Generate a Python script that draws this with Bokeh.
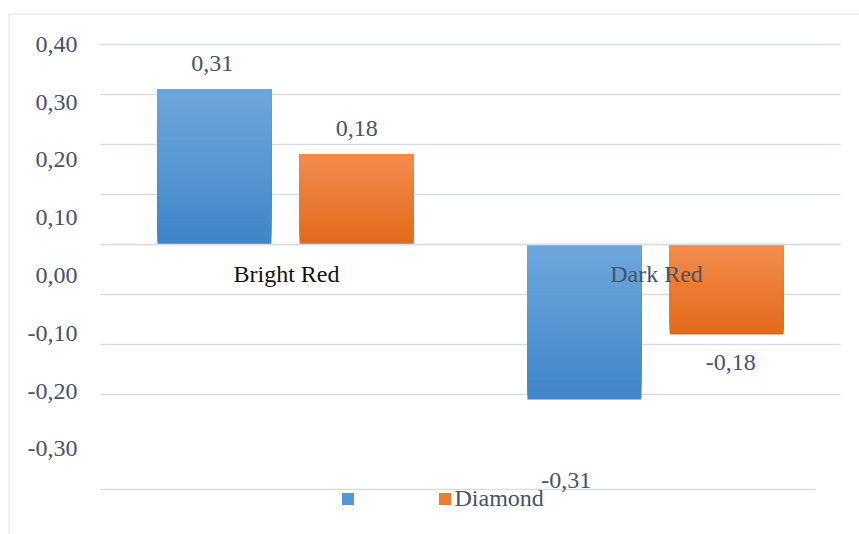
from bokeh.plotting import figure
from bokeh.models import ColumnDataSource, Range1d, Span, Legend, LegendItem
from bokeh.core.properties import value
from bokeh.embed import file_html
from bokeh.resources import INLINE

# ---- data ----
categories = ["Bright Red", "Dark Red"]
series_names = ["", "Diamond"]
blue_values = [0.31, -0.31]
orange_values = [0.18, -0.18]
tick_values = [0.40, 0.30, 0.20, 0.10, 0.00, -0.10, -0.20, -0.30]
tick_labels = ["0,40", "0,30", "0,20", "0,10", "0,00", "-0,10", "-0,20", "-0,30"]
grid_values = [0.40, 0.30, 0.20, 0.10, 0.00, -0.10, -0.20, -0.30]
baseline_value = 0.0
floor_value = -0.49

# ---- styling ----
FONT = "Liberation Serif"
FONT_SIZE = "24px"
TEXT_COLOR = "#44546a"
GRID_COLOR = "#d9dde3"
BORDER_COLOR = "#dde1e6"
BLUE = ("#6ea6dc", "#3f86c8")      # light (top), dark (bottom)
ORANGE = ("#f28c4e", "#e3691a")
N_LAYERS = 40
BAR_W = 1 / 3.25                   # 100% gap between clusters, -25% overlap
BAR_SHIFT = 0.625 * BAR_W
category_colors = ["#111111", TEXT_COLOR]
# value label nudges (dx, dy) in screen pixels, per series and category
value_label_offsets = [
    [(-2, -26), (-18, 81)],
    [(0, -26), (4, 28)],
]

W, H = 859, 534
LEFT, TOP = 8, 13
X_START, X_END = -0.74865, 1.55135
Y_START, Y_END = -0.58, 0.462
FLOOR_X_END = 1.432


def hex_rgb(h):
    return tuple(int(h[i:i + 2], 16) for i in (1, 3, 5))


def mix(c0, c1, t):
    a, b = hex_rgb(c0), hex_rgb(c1)
    return "#%02x%02x%02x" % tuple(round(a[i] + (b[i] - a[i]) * t) for i in range(3))


def layered_source(xs, vals, colors):
    """Stacked, shrinking slices of each bar that shade it from light (top) to dark (bottom)."""
    light, dark = colors
    x, top, bottom, color = [], [], [], []
    for k in range(N_LAYERS):
        frac = 1 - k / N_LAYERS
        c = mix(dark, light, k / (N_LAYERS - 1))
        for xi, v in zip(xs, vals):
            hi, lo = max(v, 0.0), min(v, 0.0)
            x.append(xi)
            top.append(hi)
            bottom.append(hi - (hi - lo) * frac)
            color.append(c)
    return ColumnDataSource(dict(x=x, top=top, bottom=bottom, color=color))


p = figure(
    width=W, height=H,
    x_range=Range1d(X_START, X_END), y_range=Range1d(Y_START, Y_END),
    x_axis_type=None, y_axis_type=None,
    toolbar_location=None, output_backend="svg",
    min_border_left=LEFT, min_border_top=TOP, min_border_right=0, min_border_bottom=0,
)
p.extra_y_ranges = {"ticks": Range1d(-0.44795, 0.4533)}
p.outline_line_color = None
p.background_fill_color = "white"
p.border_fill_color = "white"

# chart area border (top and left edges)
p.add_layout(Span(location=Y_END, dimension="width", line_color=BORDER_COLOR, line_width=2))
p.add_layout(Span(location=X_START, dimension="height", line_color=BORDER_COLOR, line_width=2))

# horizontal gridlines across the category domain
n = len(categories)
p.segment(x0=[-0.5] * len(grid_values), x1=[n - 0.5] * len(grid_values),
          y0=grid_values, y1=grid_values, line_color=GRID_COLOR, line_width=1.6)
p.segment(x0=[-0.5], x1=[FLOOR_X_END], y0=[floor_value], y1=[floor_value],
          line_color=GRID_COLOR, line_width=1.6)

# bars
renderers = []
for s, (vals, cols, sign) in enumerate([(blue_values, BLUE, -1), (orange_values, ORANGE, 1)]):
    xs = [i + sign * BAR_SHIFT for i in range(n)]
    src = layered_source(xs, vals, cols)
    r = p.vbar(x="x", width=BAR_W, top="top", bottom="bottom", source=src,
               fill_color="color", line_color=None)
    renderers.append(r)

    lab = ColumnDataSource(dict(
        x=xs, y=vals,
        text=[f"{v:.2f}".replace(".", ",") for v in vals],
        dx=[o[0] for o in value_label_offsets[s]],
        dy=[o[1] for o in value_label_offsets[s]],
    ))
    p.text(x="x", y="y", text="text", x_offset="dx", y_offset="dy", source=lab,
           text_align="center", text_baseline="middle",
           text_font=value(FONT), text_font_size=FONT_SIZE, text_color=TEXT_COLOR)

# zero line stays visible where the bars meet it
p.segment(x0=[-0.5], x1=[n - 0.5], y0=[baseline_value], y1=[baseline_value],
          line_color=GRID_COLOR, line_width=1.6)

# value-axis labels
p.text(x=[X_START] * len(tick_values), y=tick_values, text=tick_labels,
       y_range_name="ticks", x_offset=69, text_align="right", text_baseline="middle",
       text_font=value(FONT), text_font_size=FONT_SIZE, text_color=TEXT_COLOR)

# category labels along the zero line
cat_src = ColumnDataSource(dict(x=list(range(n)), y=[0.0] * n, text=categories, color=category_colors))
p.text(x="x", y="y", text="text", source=cat_src, x_offset=1, y_offset=29,
       text_align="center", text_baseline="middle", text_color="color",
       text_font=value(FONT), text_font_size=FONT_SIZE)

# legend
mid = (N_LAYERS // 2) * n
legend = Legend(
    items=[LegendItem(label=series_names[i], renderers=[renderers[i]], index=mid) for i in range(2)],
    orientation="horizontal", location=(331.5, 22.5),
    spacing=79, glyph_width=15, glyph_height=15, label_standoff=3, label_width=0,
    padding=0, margin=0, border_line_color=None, background_fill_alpha=0,
    label_text_font=FONT, label_text_font_size=FONT_SIZE, label_text_color=TEXT_COLOR,
)
p.add_layout(legend)

open("out.html", "w").write(file_html(p, INLINE))
